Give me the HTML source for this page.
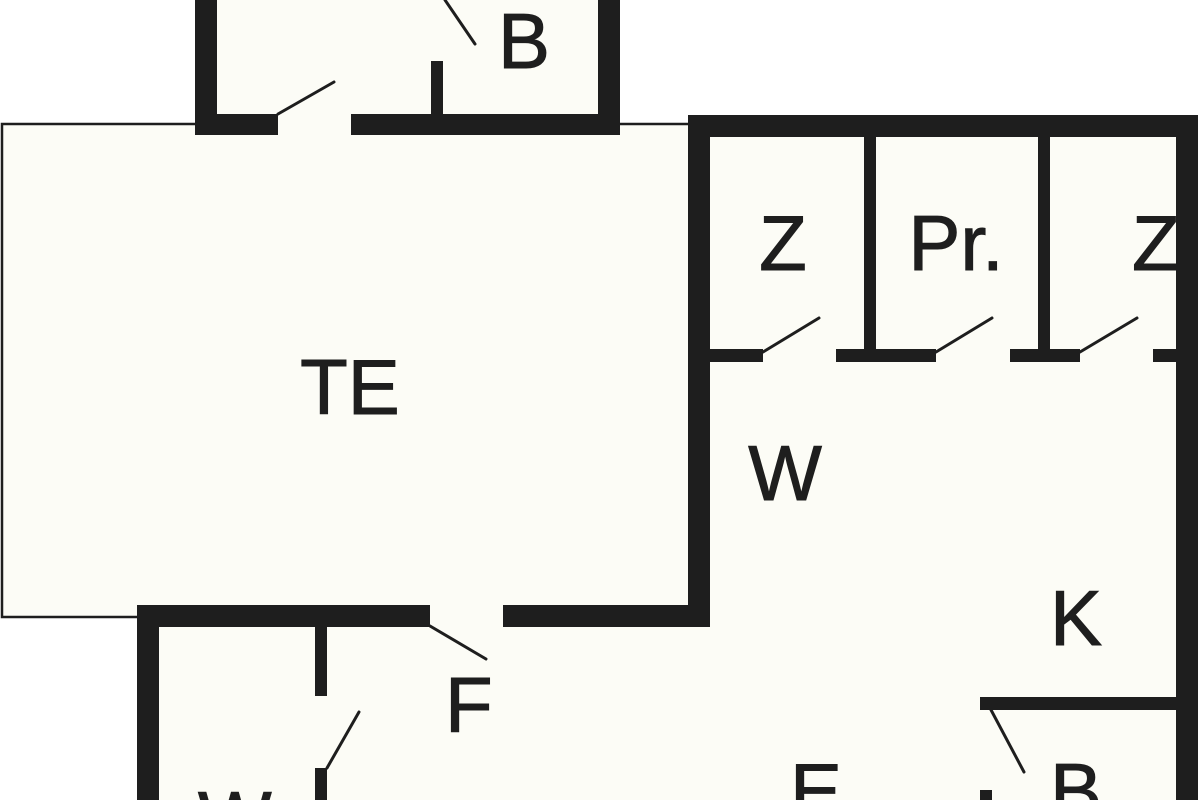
<!DOCTYPE html>
<html><head><style>html,body{margin:0;padding:0;background:#fff;width:1200px;height:800px;overflow:hidden;}svg{display:block}</style></head>
<body>
<svg width="1200" height="800" viewBox="0 0 1200 800" xmlns="http://www.w3.org/2000/svg" style="overflow:hidden">
<defs><clipPath id="c"><rect x="0" y="0" width="1200" height="800"/></clipPath></defs>
<g clip-path="url(#c)">
<g fill="#fcfcf6">
<rect x="2" y="124" width="686" height="493"/>
<rect x="217" y="0" width="381" height="124"/>
<rect x="688" y="115" width="510" height="685"/>
<rect x="137" y="605" width="560" height="195"/>
</g>
<g fill="none" stroke="#1e1e1e" stroke-width="2.5">
<polyline points="195,124 2,124 2,617 140,617"/>
<line x1="620" y1="124" x2="690" y2="124"/>
</g>
<g fill="#1e1e1e">
<rect x="195" y="0" width="22" height="135"/>
<rect x="598" y="0" width="22" height="135"/>
<rect x="195" y="114" width="83" height="21"/>
<rect x="351" y="114" width="269" height="21"/>
<rect x="431" y="61" width="12" height="60"/>
<rect x="688" y="115" width="510" height="22"/>
<rect x="688" y="115" width="22" height="512"/>
<rect x="864" y="137" width="12" height="215"/>
<rect x="1038" y="137" width="12" height="215"/>
<rect x="710" y="349" width="53" height="13"/>
<rect x="836" y="349" width="100" height="13"/>
<rect x="1010" y="349" width="70" height="13"/>
<rect x="1153" y="349" width="23" height="13"/>
<rect x="137" y="605" width="293" height="22"/>
<rect x="503" y="605" width="207" height="22"/>
<rect x="137" y="605" width="22" height="195"/>
<rect x="315" y="627" width="12" height="69"/>
<rect x="315" y="768" width="12" height="32"/>
<rect x="980" y="697" width="196" height="13"/>
<rect x="980" y="790" width="12" height="10"/>
</g>
<g stroke="#1e1e1e" stroke-width="3" stroke-linecap="round">
<line x1="278" y1="114" x2="334" y2="82"/>
<line x1="445" y1="0" x2="475" y2="44"/>
<line x1="763" y1="352" x2="819" y2="318"/>
<line x1="936" y1="352" x2="992" y2="318"/>
<line x1="1080" y1="352" x2="1137" y2="318"/>
<line x1="430" y1="626" x2="486" y2="659"/>
<line x1="327" y1="768" x2="359" y2="712"/>
<line x1="990" y1="708" x2="1024" y2="772"/>
</g>
<g font-family="Liberation Sans, sans-serif" font-size="78" fill="#1e1e1e" stroke="#1e1e1e" stroke-width="1">
<text x="350" y="414" text-anchor="middle">TE</text>
<text x="498" y="68">B</text>
<text x="783" y="270" text-anchor="middle">Z</text>
<text x="956" y="270" text-anchor="middle">Pr.</text>
<text x="1132" y="270">Z</text>
<text x="785" y="500" text-anchor="middle">W</text>
<text x="1050" y="645">K</text>
<text x="445" y="732">F</text>
<text x="790" y="818">E</text>
<text x="1050" y="818">B</text>
<text x="198" y="846">W</text>
</g>
<rect x="1176" y="115" width="22" height="685" fill="#1e1e1e"/>
</g>
</svg>
</body></html>
